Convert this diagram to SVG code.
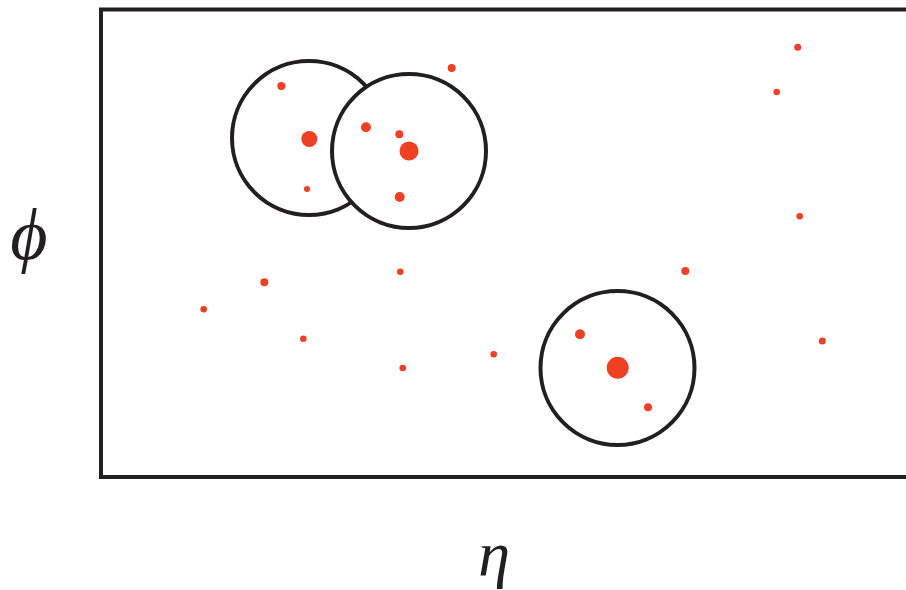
<svg xmlns="http://www.w3.org/2000/svg" width="906" height="590" viewBox="0 0 906 590">
<style>
.frame{fill:#fff;stroke:#231f20;stroke-width:4}
.cone{fill:#fff;stroke:#231f20;stroke-width:4}
.p{fill:#ee4023}
.lbl{font-family:"Liberation Serif","DejaVu Serif",serif;font-style:italic;fill:#231f20}
</style>
<rect width="906" height="590" fill="#fff"/>
<rect id="frame" class="frame" x="101" y="9.5" width="840" height="467.5"/>
<g id="jet1"><circle class="cone" cx="309" cy="138" r="77"/></g>
<g id="jet2"><circle class="cone" cx="409" cy="151" r="77"/></g>
<g id="jet3"><circle class="cone" cx="617.5" cy="368" r="77"/></g>
<g id="particles">
<circle class="p" cx="309.3" cy="139" r="8"/>
<circle class="p" cx="409" cy="151" r="9.5"/>
<circle class="p" cx="617.7" cy="367.7" r="11"/>
<circle class="p" cx="281.3" cy="86" r="4"/>
<circle class="p" cx="366" cy="127.3" r="5"/>
<circle class="p" cx="399.3" cy="134.3" r="4"/>
<circle class="p" cx="399.7" cy="197" r="5"/>
<circle class="p" cx="307" cy="189" r="3"/>
<circle class="p" cx="451.7" cy="68" r="4"/>
<circle class="p" cx="580" cy="334.3" r="5"/>
<circle class="p" cx="648" cy="407.3" r="4"/>
<circle class="p" cx="264.3" cy="282.3" r="4"/>
<circle class="p" cx="203.7" cy="309.3" r="3.3"/>
<circle class="p" cx="303.3" cy="338.7" r="3.3"/>
<circle class="p" cx="400.3" cy="271.7" r="3.3"/>
<circle class="p" cx="402.7" cy="368" r="3.3"/>
<circle class="p" cx="685.3" cy="271" r="4"/>
<circle class="p" cx="493.7" cy="354.3" r="3.3"/>
<circle class="p" cx="797.7" cy="47.3" r="3.5"/>
<circle class="p" cx="776.7" cy="92" r="3.3"/>
<circle class="p" cx="799.7" cy="216.3" r="3.3"/>
<circle class="p" cx="822.3" cy="341" r="3.5"/>
</g>
<text id="phi" class="lbl" x="29" y="259" font-size="72" text-anchor="middle">ϕ</text>
<text id="eta" class="lbl" x="494" y="575" font-size="64" text-anchor="middle">η</text>
</svg>
